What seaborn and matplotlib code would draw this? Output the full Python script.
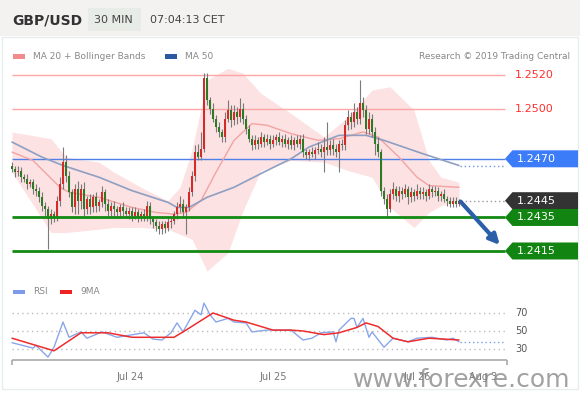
import numpy as np
import matplotlib
matplotlib.use("Agg")
import matplotlib.pyplot as plt
from matplotlib.patches import Polygon, Rectangle
import seaborn as sns

# ---- data (30 min bars, index 0 = first bar shown) ----
first_open = 1.2466
close = [
    1.2464, 1.2462, 1.2463, 1.2459, 1.2458, 1.2455, 1.2456, 1.2452, 1.2451, 1.2447,
    1.2442, 1.2440, 1.2434, 1.2437, 1.2435, 1.2445, 1.2455, 1.2468, 1.2460, 1.2450,
    1.2441, 1.2452, 1.2445, 1.2452, 1.2440, 1.2446, 1.2441, 1.2447, 1.2442, 1.2444,
    1.2450, 1.2443, 1.2439, 1.2442, 1.2440, 1.2438, 1.2441, 1.2439, 1.2437, 1.2439,
    1.2436, 1.2438, 1.2435, 1.2437, 1.2436, 1.2442, 1.2434, 1.2432, 1.2430, 1.2428,
    1.2431, 1.2429, 1.2432, 1.2433, 1.2437, 1.2441, 1.2443, 1.2438, 1.2441, 1.2450,
    1.2460, 1.2474, 1.2471, 1.2476, 1.2518, 1.2505, 1.2500, 1.2494, 1.2489, 1.2486,
    1.2483, 1.2494, 1.2499, 1.2493, 1.2498, 1.2495, 1.2500, 1.2494, 1.2488, 1.2482,
    1.2478, 1.2481, 1.2479, 1.2483, 1.2480, 1.2482, 1.2479, 1.2481, 1.2483, 1.2480,
    1.2482, 1.2479, 1.2481, 1.2478, 1.2481, 1.2479, 1.2482, 1.2474, 1.2472, 1.2474,
    1.2473, 1.2475, 1.2476, 1.2474, 1.2477, 1.2475, 1.2478, 1.2476, 1.2474, 1.2479,
    1.2478, 1.2490, 1.2495, 1.2492, 1.2498, 1.2494, 1.2503, 1.2499, 1.2488, 1.2494,
    1.2486, 1.2479, 1.2474, 1.2451, 1.2446, 1.2440, 1.2449, 1.2452, 1.2448, 1.2451,
    1.2449, 1.2452, 1.2447, 1.2450, 1.2448, 1.2451, 1.2449, 1.2450, 1.2448, 1.2452,
    1.2450, 1.2451, 1.2448, 1.2449, 1.2446, 1.2445, 1.2443, 1.2445, 1.2443, 1.2445,
]
# wick lengths beyond the body, in pips
wick_up = [
    2, 2, 3, 2, 2, 3, 2, 2, 3, 2,   3, 2, 2, 3, 2, 3, 4, 9, 4, 3,
    2, 3, 5, 3, 4, 2, 3, 2, 3, 2,   4, 2, 3, 2, 3, 2, 2, 3, 2, 2,
    2, 3, 2, 2, 3, 3, 2, 2, 2, 3,   2, 2, 3, 2, 2, 3, 5, 3, 2, 3,
    3, 4, 5, 10, 3, 3, 2, 3, 2, 3,  2, 4, 6, 3, 4, 3, 6, 3, 2, 2,
    2, 3, 2, 3, 2, 3, 2, 3, 2, 3,   2, 3, 2, 3, 2, 3, 2, 3, 2, 2,
    3, 2, 4, 3, 6, 15, 3, 4, 3, 2,  3, 3, 4, 3, 5, 3, 14, 4, 3, 4,
    3, 3, 4, 2, 2, 3, 3, 4, 2, 3,   2, 3, 2, 3, 2, 4, 2, 3, 2, 3,
    2, 3, 2, 2, 3, 2, 2, 2, 2, 1,
]
wick_dn = [
    2, 3, 2, 3, 2, 3, 2, 3, 3, 3,   3, 4, 18, 3, 3, 2, 3, 3, 4, 3,
    3, 4, 8, 5, 4, 3, 4, 3, 4, 3,   3, 4, 3, 3, 4, 3, 3, 3, 2, 3,
    3, 2, 3, 2, 3, 3, 3, 3, 3, 3,   3, 3, 2, 3, 2, 3, 3, 3, 13, 2,
    2, 3, 2, 2, 2, 3, 3, 2, 3, 3,   3, 3, 2, 4, 3, 4, 3, 3, 3, 2,
    3, 2, 3, 2, 3, 2, 3, 2, 3, 2,   3, 2, 3, 2, 3, 2, 3, 3, 2, 3,
    2, 3, 2, 3, 12, 3, 3, 4, 3, 12, 3, 3, 3, 4, 3, 3, 3, 4, 3, 3,
    3, 7, 3, 3, 3, 5, 2, 3, 3, 4,   3, 2, 4, 3, 3, 2, 3, 3, 3, 2,
    3, 2, 3, 3, 2, 3, 2, 2, 2, 1,
]

ma20_idx = [0, 7, 16, 19, 29, 40, 48, 54, 58, 63, 68, 74, 80, 85, 93, 102, 109, 117, 122, 129, 135, 139, 149]
ma20 = [1.2474, 1.2469, 1.2453, 1.2450, 1.2447, 1.2441, 1.2438, 1.2437, 1.2438, 1.2445, 1.2462, 1.2481,
        1.2491, 1.2490, 1.2485, 1.2481, 1.2482, 1.2486, 1.2483, 1.2471, 1.2459, 1.2454, 1.2453]

bb_idx = [0, 13, 18, 29, 34, 43, 52, 56, 60, 65, 72, 77, 83, 93, 104, 112, 120, 126, 134, 139, 143, 149]
bb_upper = [1.2486, 1.2482, 1.2471, 1.2468, 1.2462, 1.2453, 1.2445, 1.2453, 1.2475, 1.2517, 1.2524,
            1.2521, 1.2509, 1.2497, 1.2483, 1.2495, 1.2511, 1.2513, 1.2499, 1.2469, 1.2459, 1.2456]
bb_lower = [1.2462, 1.2426, 1.2426, 1.2428, 1.2429, 1.2429, 1.2428, 1.2425, 1.2422, 1.2403, 1.2414,
            1.2439, 1.2463, 1.2469, 1.2468, 1.2463, 1.2459, 1.2441, 1.2429, 1.2438, 1.2442, 1.2445]

ma50_idx = [0, 10, 17, 29, 40, 52, 55, 59, 65, 74, 85, 93, 99, 109, 118, 124, 137, 149]
ma50 = [1.2480, 1.2471, 1.2466, 1.2459, 1.2451, 1.2444, 1.2441, 1.2441, 1.2447, 1.2453, 1.2463,
        1.2470, 1.2477, 1.2484, 1.2484, 1.2481, 1.2473, 1.2466]

rsi_idx = [0, 7, 8, 12, 14, 17, 19, 23, 25, 30, 35, 44, 47, 50, 53, 55, 57, 61, 63, 64, 66, 68, 72, 74,
           78, 80, 85, 93, 97, 100, 103, 107, 108, 109, 113, 114, 115, 117, 119, 120, 124, 127, 132,
           135, 140, 145, 147, 149]
rsi = [37, 31, 34, 21, 32, 60, 43, 49, 42, 49, 43, 48, 41, 40, 48, 59, 49, 73, 68, 81, 68, 60, 64, 60,
       59, 49, 51, 51, 40, 42, 48, 49, 38, 51, 64, 64, 54, 64, 43, 49, 32, 42, 38,
       42, 43, 40, 42, 38]
rsi_ma_idx = [0, 14, 23, 32, 40, 54, 58, 67, 74, 78, 87, 93, 97, 104, 109, 115, 118, 122, 127, 132, 139, 149]
rsi_ma = [42, 28, 48, 48, 43, 43, 51, 70, 62, 60, 51, 51, 50, 46, 48, 54, 59, 55, 42, 38, 42, 40]
rsi_levels = [70, 50, 30]

support = [1.2435, 1.2415]
resistance = [1.2520, 1.2500]
pivot = 1.2470
last_price = 1.2445
target = 1.2415

date_ticks = [39.3, 87, 135, 157]
date_labels = ["Jul 24", "Jul 25", "Jul 26", "Aug 3"]

# ---- figure / layout ----
sns.set_theme(style="white")
plt.rcParams['font.family'] = ['DejaVu Sans']

W, H = 580, 393
fig = plt.figure(figsize=(W / 100, H / 100), dpi=100)
fig.patch.set_facecolor('white')


def fbox(x0, y0, x1, y1):
    return [x0 / W, 1 - y1 / H, (x1 - x0) / W, (y1 - y0) / H]


bg = fig.add_axes([0, 0, 1, 1])
bg.set_xlim(0, W)
bg.set_ylim(H, 0)
bg.axis('off')
bg.add_patch(Rectangle((0, 0), W, 36, color='#f4f1f1', lw=0))
bg.add_patch(Rectangle((88, 8), 53, 23, color='#e7ece7', lw=0))
bg.add_patch(Rectangle((2, 37), 576, 352, fill=False, ec='#e8eded', lw=1))
bg.text(12, 20, "GBP/USD", fontsize=10, fontweight='bold', color='#333333', va='center')
bg.text(94, 20, "30 MIN", fontsize=8, color='#444444', va='center')
bg.text(150, 20, "07:04:13 CET", fontsize=8, color='#444444', va='center')
# legends
bg.add_patch(Rectangle((13, 53.5), 12, 5, color='#f28b8b', lw=0))
bg.text(33, 56.5, "MA 20 + Bollinger Bands", fontsize=6.5, color='#888888', va='center')
bg.add_patch(Rectangle((165, 53.5), 12, 5, color='#2c5aa0', lw=0))
bg.text(185, 56.5, "MA 50", fontsize=6.5, color='#888888', va='center')
bg.text(570, 56.5, "Research \u00a9 2019 Trading Central", fontsize=6.5, color='#888888',
        va='center', ha='right')
bg.add_patch(Rectangle((13, 290), 12, 4, color='#7d9be8', lw=0))
bg.text(33, 292, "RSI", fontsize=6.5, color='#888888', va='center')
bg.add_patch(Rectangle((60, 290), 12, 4, color='#ee2222', lw=0))
bg.text(80, 292, "9MA", fontsize=6.5, color='#888888', va='center')

# ---- price panel ----
ax = fig.add_axes(fbox(8, 65, 578, 280))
ax.set_facecolor('none')
ax.axis('off')
ax.set_xlim(-1.333, 188.667)
pix = 16760.0  # pixels per unit of price
ax.set_ylim(1.2520 - 205 / pix, 1.2520 + 10 / pix)
x_end = 164.33
tag_x0, tag_x1, tag_x2 = 164.33, 166.8, 188.67
half = 8.5 / pix

ax.fill_between(bb_idx, bb_lower, bb_upper, color='#fcd6d6', alpha=0.7, lw=0, zorder=1)
sns.lineplot(x=ma20_idx, y=ma20, ax=ax, color='#f3a3a3', linewidth=1, zorder=2)
sns.lineplot(x=ma50_idx, y=ma50, ax=ax, color='#8e9fc2', linewidth=1.2, zorder=2)
ax.hlines(ma50[-1], ma50_idx[-1] + 0.5, x_end, colors='#6f8fe0', linestyles=(0, (1, 2)), lw=1)

for lv in resistance:
    ax.hlines(lv, 0, x_end, colors='#ffa5a5', lw=1, zorder=1.5)
    ax.text(167.7, lv, f"{lv:.4f}", color='#ff3030', fontsize=8, va='center')
ax.hlines(pivot, 0, x_end, colors='#4f7fe8', lw=1, zorder=1.5)
for lv in support:
    ax.hlines(lv, 0, x_end, colors='#138a13', lw=2, zorder=4)


def tag(price, color, text):
    pts = [(tag_x0, price), (tag_x1, price + half), (tag_x2, price + half),
           (tag_x2, price - half), (tag_x1, price - half)]
    ax.add_patch(Polygon(pts, closed=True, color=color, lw=0, zorder=5))
    ax.text(168.3, price, text, color='white', fontsize=8, va='center', zorder=6)


tag(pivot, '#3c7cf8', f"{pivot:.4f}")
tag(last_price, '#333333', f"{last_price:.4f}")
for lv in support:
    tag(lv, '#128412', f"{lv:.4f}")

# candles
idx = np.arange(len(close))
closes = np.array(close)
opens = np.r_[first_open, closes[:-1]]
highs = np.maximum(opens, closes) + np.array(wick_up) * 1e-4
lows = np.minimum(opens, closes) - np.array(wick_dn) * 1e-4
up = closes >= opens
ax.vlines(idx, lows, highs, colors='#7a7a7a', lw=0.8, zorder=3)
body_lo = np.minimum(opens, closes)
body_h = np.maximum(np.abs(closes - opens), 0.4e-4)
ax.bar(idx[up], body_h[up], bottom=body_lo[up], width=0.62, color='#d42a2a', lw=0, zorder=3.5)
ax.bar(idx[~up], body_h[~up], bottom=body_lo[~up], width=0.62, color='#2c7a24', lw=0, zorder=3.5)

ax.hlines(last_price, idx[-1] + 0.6, x_end, colors='#999999', linestyles=(0, (1, 2)), lw=1)
ax.annotate("", xy=(162.6, target + 0.6 / pix * 10), xytext=(idx[-1] + 0.5, closes[-1] - 0.00005),
            arrowprops=dict(arrowstyle='-|>', color='#2b5fa8', lw=3, mutation_scale=15,
                            shrinkA=0, shrinkB=0), zorder=7)

# ---- RSI panel ----
rx = fig.add_axes(fbox(8, 285, 578, 362))
rx.set_facecolor('none')
rx.set_xlim(-1.333, 188.667)
rx.set_ylim(50 - 31 / 0.9, 50 + 46 / 0.9)
for s in rx.spines.values():
    s.set_visible(False)
rx.set_yticks([])
for lv in rsi_levels:
    rx.hlines(lv, 0, x_end, colors='#bbbbbb', linestyles=(0, (1, 2.5)), lw=1)
    rx.text(167.7, lv, str(lv), color='#555555', fontsize=7, va='center')
sns.lineplot(x=rsi_idx, y=rsi, ax=rx, color='#8aa6ea', linewidth=1, zorder=3)
sns.lineplot(x=rsi_ma_idx, y=rsi_ma, ax=rx, color='#ee2c2c', linewidth=1.1, zorder=4)
rx.hlines(rsi[-1], rsi_idx[-1] + 0.5, x_end, colors='#7d9be8', linestyles=(0, (1, 2)), lw=1)
base = 50 - 29 / 0.9
rx.hlines(base, 0, 165, colors='#aaaaaa', lw=1.2, clip_on=False)
rx.vlines([0, 165], base - 5 / 0.9, base, colors='#aaaaaa', lw=1.2, clip_on=False)
rx.set_xticks(date_ticks)
rx.set_xticklabels(date_labels, fontsize=7, color='#777777')
rx.tick_params(axis='x', length=0, pad=7)
rx.set_xlabel("")
rx.set_ylabel("")
ax.set_xlabel("")
ax.set_ylabel("")

fig.text(570 / W, 1 - 380 / H, "www.forexre.com", fontsize=18, color='#8a8a8a', alpha=0.8,
         ha='right', va='center')

fig.savefig("out.png", dpi=100)
